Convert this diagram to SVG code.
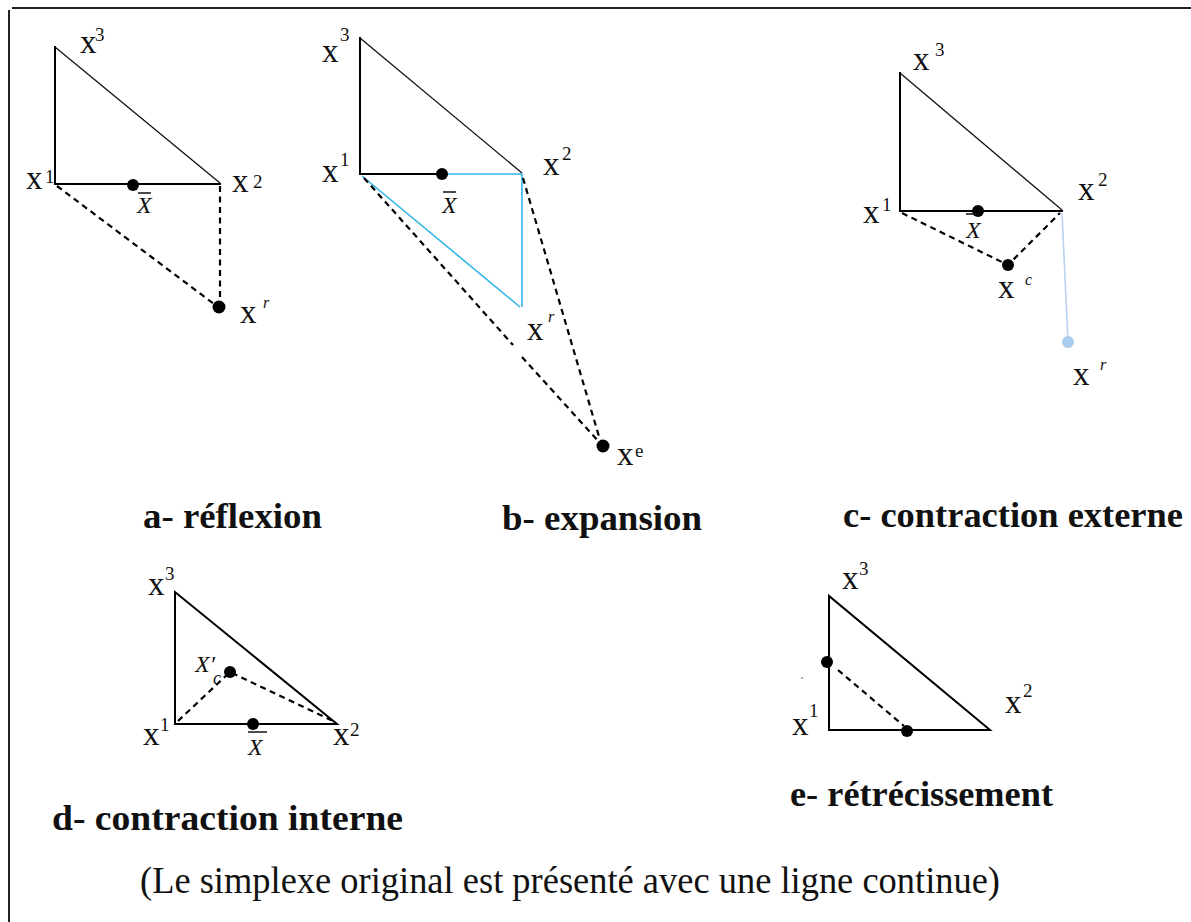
<svg xmlns="http://www.w3.org/2000/svg" width="1191" height="922" viewBox="0 0 1191 922">
<style>
.bg{fill:#fff}
.frame{stroke:#222;stroke-width:2;fill:none}
.edge{stroke:#000;stroke-width:2;fill:none;stroke-linecap:square}
.hyp{stroke:#111;stroke-width:1.3;fill:none}
.dash{stroke:#000;stroke-width:2.2;fill:none;stroke-dasharray:6 4.5}
.blue{stroke:#33b5e5;stroke-width:1.6;fill:none}
.lblue{stroke:#b9d3ee;stroke-width:1.6;fill:none}
.dot{fill:#000}
.x{font-family:"Liberation Serif","Times New Roman",serif;font-size:33px;fill:#111}
.sup{font-size:19px}
.it{font-family:"Liberation Serif","Times New Roman",serif;font-style:italic;font-size:16px;fill:#111}
.xb{font-family:"Liberation Serif","Times New Roman",serif;font-style:italic;font-size:24px;fill:#111}
.bar{stroke:#111;stroke-width:1.5}
.title{font-family:"Liberation Serif","Times New Roman",serif;font-weight:bold;font-size:35px;fill:#111}
.cap{font-family:"Liberation Serif","Times New Roman",serif;font-size:37px;fill:#111}
</style>
<rect class="bg" x="0" y="0" width="1191" height="922"/>
<g id="frame">
<line class="frame" x1="12" y1="8" x2="1191" y2="8"/>
<line class="frame" x1="9" y1="10" x2="9" y2="922"/>
</g>

<g id="panel-a">
<polyline class="edge" points="55,183 55,47"/>
<line class="hyp" x1="55" y1="47" x2="220" y2="183"/>
<line class="edge" x1="55" y1="184" x2="220" y2="184"/>
<line class="dash" x1="57" y1="186" x2="214" y2="304"/>
<line class="dash" x1="220" y1="186" x2="220" y2="304"/>
<circle class="dot" cx="133" cy="185" r="6"/>
<circle class="dot" cx="219" cy="307" r="6.5"/>
<text class="x" x="80" y="53">x<tspan class="sup" x="95" y="41">3</tspan></text>
<text class="x" x="26" y="189">x<tspan class="sup" x="45" y="183">1</tspan></text>
<text class="x" x="232" y="192">x<tspan class="sup" x="253" y="188">2</tspan></text>
<text class="x" x="240" y="323">x<tspan class="it" x="263" y="308">r</tspan></text>
<text class="xb" x="137" y="213">X</text>
<line class="bar" x1="138" y1="193" x2="151" y2="193"/>
<text class="title" x="143" y="528" textLength="179" lengthAdjust="spacingAndGlyphs">a- réflexion</text>
</g>

<g id="panel-b">
<polyline class="edge" points="360,174 360,38"/>
<line class="hyp" x1="360" y1="38" x2="522" y2="173"/>
<line class="edge" x1="360" y1="174" x2="442" y2="174"/>
<polyline class="blue" points="442,174 522,174 522,307"/>
<line class="blue" x1="362" y1="176" x2="520" y2="307"/>
<line class="dash" x1="364" y1="178" x2="513" y2="345"/>
<line class="dash" x1="522" y1="357" x2="600" y2="443"/>
<line class="dash" x1="523" y1="178" x2="600" y2="440"/>
<circle class="dot" cx="442" cy="174" r="6"/>
<circle class="dot" cx="603" cy="446" r="6.5"/>
<text class="x" x="322" y="62">x<tspan class="sup" x="340" y="41">3</tspan></text>
<text class="x" x="322" y="182">x<tspan class="sup" x="340" y="166">1</tspan></text>
<text class="x" x="543" y="175">x<tspan class="sup" x="562" y="160">2</tspan></text>
<text class="x" x="527" y="340">x<tspan class="it" x="548" y="322">r</tspan></text>
<text class="x" x="617" y="465">x<tspan class="sup" x="635" y="457">e</tspan></text>
<text class="xb" x="442" y="213">X</text>
<line class="bar" x1="443" y1="192" x2="456" y2="192"/>
<text class="title" x="502" y="530" textLength="200" lengthAdjust="spacingAndGlyphs">b- expansion</text>
</g>

<g id="panel-c">
<polyline class="edge" points="900,211 900,73"/>
<line class="hyp" x1="900" y1="73" x2="1062" y2="210"/>
<line class="edge" x1="900" y1="211" x2="1062" y2="211"/>
<polyline class="dash" points="902,213 1008,265 1060,213"/>
<line class="lblue" x1="1062" y1="213" x2="1068" y2="342"/>
<circle cx="1068" cy="342" r="6" fill="#a9cbee"/>
<circle class="dot" cx="978" cy="211" r="6"/>
<circle class="dot" cx="1008" cy="265" r="6"/>
<text class="x" x="913" y="70">x<tspan class="sup" x="935" y="56">3</tspan></text>
<text class="x" x="863" y="223">x<tspan class="sup" x="882" y="211">1</tspan></text>
<text class="x" x="1078" y="200">x<tspan class="sup" x="1098" y="186">2</tspan></text>
<text class="x" x="998" y="298">x<tspan class="it" x="1025" y="285">c</tspan></text>
<text class="x" x="1073" y="385">x<tspan class="it" x="1100" y="370">r</tspan></text>
<text class="xb" x="966" y="238">X</text>
<line class="bar" x1="966" y1="214" x2="980" y2="214"/>
<text class="title" x="843" y="527" textLength="340" lengthAdjust="spacingAndGlyphs">c- contraction externe</text>
</g>

<g id="panel-d">
<polygon class="edge" points="175,724 175,592 337,724"/>
<polyline class="dash" points="178,721 230,672 335,722"/>
<circle class="dot" cx="230" cy="672" r="6"/>
<circle class="dot" cx="253" cy="724" r="6"/>
<text class="x" x="148" y="595">x<tspan class="sup" x="165" y="580">3</tspan></text>
<text class="x" x="143" y="745">x<tspan class="sup" x="160" y="731">1</tspan></text>
<text class="x" x="333" y="745">x<tspan class="sup" x="350" y="736">2</tspan></text>
<text class="xb" x="195" y="672">X′<tspan x="213" y="684" font-size="18">c</tspan></text>
<text class="xb" x="248" y="755">X</text>
<line class="bar" x1="248" y1="732" x2="267" y2="732"/>
<text class="title" x="52" y="830" textLength="351" lengthAdjust="spacingAndGlyphs">d- contraction interne</text>
</g>

<g id="panel-e">
<polygon class="edge" points="829,730 829,596 990,730"/>
<line class="dash" x1="838" y1="670" x2="904" y2="726"/>
<circle class="dot" cx="827" cy="662" r="6"/>
<circle class="dot" cx="907" cy="731" r="6"/>
<circle cx="802" cy="678" r="1" fill="#999"/>
<text class="x" x="842" y="589">x<tspan class="sup" x="859" y="575">3</tspan></text>
<text class="x" x="792" y="735">x<tspan class="sup" x="809" y="717">1</tspan></text>
<text class="x" x="1005" y="713">x<tspan class="sup" x="1023" y="697">2</tspan></text>
<text class="title" x="790" y="806" textLength="263" lengthAdjust="spacingAndGlyphs">e- rétrécissement</text>
</g>

<text id="caption" class="cap" x="140" y="893" textLength="860" lengthAdjust="spacingAndGlyphs">(Le simplexe original est présenté avec une ligne continue)</text>
</svg>
